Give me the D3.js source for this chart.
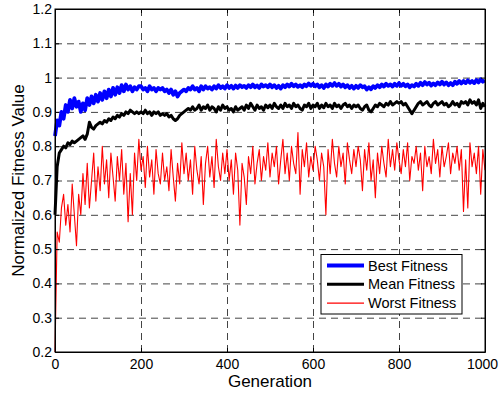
<!DOCTYPE html>
<html>
<head>
<meta charset="utf-8">
<script src="https://cdn.jsdelivr.net/npm/d3@7"></script>
<style>
  body { margin: 0; background: #fff; }
  svg { display: block; font-family: 'Liberation Sans', Arial, Helvetica, sans-serif; }
  .axis text { font-size: 14px; fill: #000; }
  .axis path, .axis line { stroke: #000; }
  .grid line { stroke: #444; stroke-dasharray: 7,5; }
  .grid path { display: none; }
  .title { font-size: 17px; fill: #000; }
  .legend-text { font-size: 14.5px; fill: #000; }
</style>
</head>
<body>
<div class="chart"><svg></svg></div>
<script>
// generations, sampled every 5
const generations = d3.range(0, 1001, 5);

const bestFitness = [
  0.83, 0.875, 0.86, 0.90, 0.88, 0.92, 0.90, 0.935, 0.91, 0.94,
  0.915, 0.93, 0.90, 0.925, 0.905, 0.94, 0.92, 0.945, 0.925, 0.95,
  0.93, 0.955, 0.935, 0.96, 0.94, 0.965, 0.945, 0.97, 0.95, 0.972,
  0.955, 0.978, 0.96, 0.98, 0.965, 0.975, 0.96, 0.972, 0.965, 0.975,
  0.975, 0.965, 0.97, 0.96, 0.975, 0.965, 0.97, 0.96, 0.97, 0.965,
  0.97, 0.96, 0.965, 0.955, 0.965, 0.95, 0.96, 0.945, 0.955, 0.96,
  0.965, 0.96, 0.97, 0.965, 0.975, 0.965, 0.97, 0.96, 0.975, 0.965,
  0.975, 0.968, 0.972, 0.965, 0.975, 0.968, 0.978, 0.97, 0.975, 0.968,
  0.978, 0.97, 0.976, 0.968, 0.977, 0.97, 0.978, 0.972, 0.976, 0.97,
  0.978, 0.972, 0.98, 0.972, 0.977, 0.97, 0.98, 0.974, 0.978, 0.972,
  0.98, 0.972, 0.978, 0.97, 0.976, 0.968, 0.978, 0.972, 0.98, 0.974,
  0.982, 0.975, 0.98, 0.973, 0.978, 0.972, 0.98, 0.975, 0.983, 0.976,
  0.982, 0.975, 0.98, 0.972, 0.978, 0.97, 0.98, 0.974, 0.982, 0.976,
  0.984, 0.976, 0.982, 0.974, 0.98, 0.972, 0.978, 0.97, 0.976, 0.968,
  0.976, 0.97, 0.978, 0.972, 0.975, 0.965, 0.972, 0.966, 0.975, 0.97,
  0.978, 0.972, 0.98, 0.974, 0.982, 0.976, 0.98, 0.974, 0.982, 0.976,
  0.984, 0.976, 0.982, 0.975, 0.98, 0.972, 0.978, 0.974, 0.982, 0.976,
  0.985, 0.978, 0.987, 0.98, 0.985, 0.977, 0.983, 0.978, 0.986, 0.98,
  0.988, 0.98, 0.986, 0.978, 0.984, 0.978, 0.988, 0.982, 0.99, 0.983,
  0.99, 0.984, 0.992, 0.985, 0.99, 0.984, 0.993, 0.986, 0.995, 0.988,
  0.992
];

const meanFitness = [
  0.60, 0.74, 0.78, 0.79, 0.80, 0.795, 0.81, 0.805, 0.815, 0.81,
  0.815, 0.82, 0.825, 0.83, 0.82, 0.835, 0.87, 0.855, 0.85, 0.86,
  0.865, 0.87, 0.865, 0.875, 0.87, 0.88, 0.875, 0.885, 0.88, 0.89,
  0.885, 0.895, 0.89, 0.9, 0.895, 0.905, 0.9, 0.895, 0.9, 0.895,
  0.9, 0.895, 0.905, 0.895, 0.9, 0.89, 0.9, 0.895, 0.9, 0.89,
  0.895, 0.89, 0.895, 0.885, 0.89, 0.88, 0.875, 0.88, 0.89, 0.895,
  0.9, 0.905, 0.91, 0.905, 0.915, 0.905, 0.91, 0.92, 0.905, 0.915,
  0.91, 0.92, 0.905, 0.915, 0.91, 0.9, 0.915, 0.905, 0.92, 0.91,
  0.915, 0.905, 0.91, 0.9, 0.915, 0.905, 0.91, 0.915, 0.905, 0.92,
  0.91, 0.925, 0.915, 0.905, 0.92, 0.91, 0.915, 0.905, 0.92, 0.912,
  0.92, 0.91, 0.925, 0.915, 0.91, 0.92, 0.91, 0.925, 0.915, 0.92,
  0.91, 0.925, 0.915, 0.92, 0.91, 0.905, 0.92, 0.915, 0.925, 0.91,
  0.92, 0.915, 0.925, 0.91, 0.92, 0.912, 0.925, 0.915, 0.92, 0.91,
  0.925, 0.915, 0.92, 0.91, 0.92, 0.925, 0.915, 0.92, 0.91, 0.92,
  0.915, 0.92, 0.91, 0.905, 0.915, 0.92, 0.905, 0.9, 0.91, 0.92,
  0.915, 0.925, 0.92, 0.915, 0.925, 0.92, 0.93, 0.92, 0.925, 0.93,
  0.925, 0.93, 0.92, 0.925, 0.915, 0.905, 0.895, 0.905, 0.915, 0.925,
  0.93, 0.92, 0.925, 0.93, 0.92, 0.915, 0.925, 0.93, 0.92, 0.925,
  0.93, 0.92, 0.925, 0.915, 0.92, 0.93, 0.92, 0.925, 0.915, 0.93,
  0.925, 0.93, 0.92, 0.935, 0.925, 0.93, 0.92, 0.935, 0.91, 0.925,
  0.915
];

const worstFitness = [
  0.20, 0.55, 0.52, 0.62, 0.66, 0.57, 0.63, 0.55, 0.69, 0.60,
  0.51, 0.66, 0.60, 0.72, 0.63, 0.75, 0.62, 0.70, 0.78, 0.64,
  0.74, 0.67, 0.80, 0.69, 0.76, 0.65, 0.78, 0.71, 0.64, 0.77,
  0.70, 0.79, 0.66, 0.75, 0.58, 0.72, 0.60, 0.78, 0.70, 0.82,
  0.73, 0.77, 0.68, 0.80, 0.71, 0.76, 0.66, 0.79, 0.72, 0.69,
  0.78, 0.70, 0.74, 0.67, 0.79, 0.71, 0.64, 0.75, 0.69, 0.81,
  0.72, 0.78, 0.70, 0.76, 0.66, 0.80, 0.73, 0.69, 0.77, 0.63,
  0.75, 0.80, 0.71, 0.77, 0.68, 0.82, 0.74, 0.70, 0.78, 0.72,
  0.79, 0.70, 0.76, 0.66, 0.78, 0.73, 0.57, 0.75, 0.71, 0.63,
  0.77, 0.72, 0.80, 0.69, 0.75, 0.79, 0.70, 0.77, 0.73, 0.81,
  0.71, 0.78, 0.74, 0.80, 0.69, 0.76, 0.82, 0.72, 0.78, 0.70,
  0.80, 0.75, 0.72, 0.84, 0.66, 0.79, 0.74, 0.81, 0.71, 0.77,
  0.73, 0.80, 0.76, 0.70, 0.78, 0.74, 0.60, 0.79, 0.72, 0.82,
  0.75, 0.71, 0.80, 0.74, 0.78, 0.69, 0.81, 0.76, 0.72, 0.79,
  0.74, 0.80, 0.76, 0.67, 0.79, 0.73, 0.81, 0.70, 0.76, 0.65,
  0.78, 0.72, 0.80, 0.75, 0.71, 0.82, 0.74, 0.79, 0.73, 0.81,
  0.76, 0.72, 0.79, 0.74, 0.81, 0.70, 0.77, 0.75, 0.80, 0.73,
  0.78, 0.67, 0.80, 0.74, 0.77, 0.72, 0.82, 0.75, 0.79, 0.71,
  0.80, 0.74, 0.77, 0.81, 0.72, 0.78, 0.75, 0.80, 0.73, 0.79,
  0.61, 0.76, 0.62, 0.81, 0.74, 0.78, 0.72, 0.80, 0.66, 0.79,
  0.73
];

const xTicks = [0, 200, 400, 600, 800, 1000];
const yTicks = [0.2, 0.3, 0.4, 0.5, 0.6, 0.7, 0.8, 0.9, 1, 1.1, 1.2];

const seriesNames = ['Best Fitness', 'Mean Fitness', 'Worst Fitness'];
const seriesColors = ['#0000ff', '#000000', '#ff0000'];
const seriesWidths = [3.8, 3, 1.1];

function fitnessChart() {
  const margin = { top: 9, right: 15, bottom: 44, left: 55 };
  const w = 500;
  const h = 396;
  const width = w - margin.left - margin.right;
  const height = h - margin.top - margin.bottom;

  const svg = d3.select('.chart svg').attr('width', w).attr('height', h);

  svg.append('rect').attr('width', w).attr('height', h).attr('fill', '#fff');

  const g = svg.append('g').attr('transform', `translate(${margin.left},${margin.top})`);

  const x = d3.scaleLinear().domain([0, 1000]).range([0, width]);
  const y = d3.scaleLinear().domain([0.2, 1.2]).range([height, 0]);

  // dashed grid
  g.append('g')
    .attr('class', 'grid')
    .attr('transform', `translate(0,${height})`)
    .call(d3.axisBottom(x).tickValues(xTicks.slice(1, -1)).tickSize(-height).tickFormat(''));

  g.append('g')
    .attr('class', 'grid')
    .call(d3.axisLeft(y).tickValues(yTicks.slice(1, -1)).tickSize(-width).tickFormat(''));

  // series
  const series = [bestFitness, meanFitness, worstFitness];
  const line = d3.line()
    .x((d, i) => x(generations[i]))
    .y(d => y(d));

  // worst first, best on top
  [2, 1, 0].forEach(k => {
    g.append('path')
      .datum(series[k])
      .attr('fill', 'none')
      .attr('stroke', seriesColors[k])
      .attr('stroke-width', seriesWidths[k])
      .attr('stroke-linejoin', 'round')
      .attr('d', line);
  });

  // axes with inward ticks, box on
  const axisX = d3.axisBottom(x).tickValues(xTicks).tickSizeInner(-4).tickSizeOuter(0).tickPadding(7).tickFormat(d3.format('d'));
  const gx = g.append('g').attr('class', 'axis axis-x').attr('transform', `translate(0,${height})`).call(axisX);
  // keep the last label inside the page
  gx.selectAll('.tick text').filter(d => d === 1000).attr('dx', -3);

  const axisY = d3.axisLeft(y).tickValues(yTicks).tickSizeInner(-4).tickSizeOuter(0).tickPadding(3).tickFormat(d => d3.format('')(+d.toFixed(1)));
  g.append('g').attr('class', 'axis axis-y').call(axisY);

  g.append('g').attr('class', 'axis')
    .call(d3.axisTop(x).tickValues(xTicks).tickSizeInner(-4).tickSizeOuter(0).tickFormat(''));
  g.append('g').attr('class', 'axis').attr('transform', `translate(${width},0)`)
    .call(d3.axisRight(y).tickValues(yTicks).tickSizeInner(-4).tickSizeOuter(0).tickFormat(''));

  g.append('rect')
    .attr('width', width)
    .attr('height', height)
    .attr('fill', 'none')
    .attr('stroke', '#000')
    .attr('stroke-width', 1);

  // titles
  svg.append('text')
    .attr('class', 'title')
    .attr('x', margin.left + width / 2)
    .attr('y', 387)
    .attr('text-anchor', 'middle')
    .text('Generation');

  svg.append('text')
    .attr('class', 'title')
    .attr('transform', `translate(24,${margin.top + height / 2}) rotate(-90)`)
    .attr('text-anchor', 'middle')
    .text('Normalized Fitness Value');

  // legend
  const legend = svg.append('g').attr('transform', 'translate(321,254.5)');
  legend.append('rect')
    .attr('width', 141)
    .attr('height', 59.5)
    .attr('fill', '#fff')
    .attr('stroke', '#000');

  seriesNames.forEach((name, i) => {
    const ly = 11 + i * 18.8;
    legend.append('line')
      .attr('x1', 6).attr('x2', 43)
      .attr('y1', ly).attr('y2', ly)
      .attr('stroke', seriesColors[i])
      .attr('stroke-width', seriesWidths[i]);
    legend.append('text')
      .attr('class', 'legend-text')
      .attr('x', 47)
      .attr('y', ly + 5)
      .text(name);
  });
}

fitnessChart();
</script>
</body>
</html>
